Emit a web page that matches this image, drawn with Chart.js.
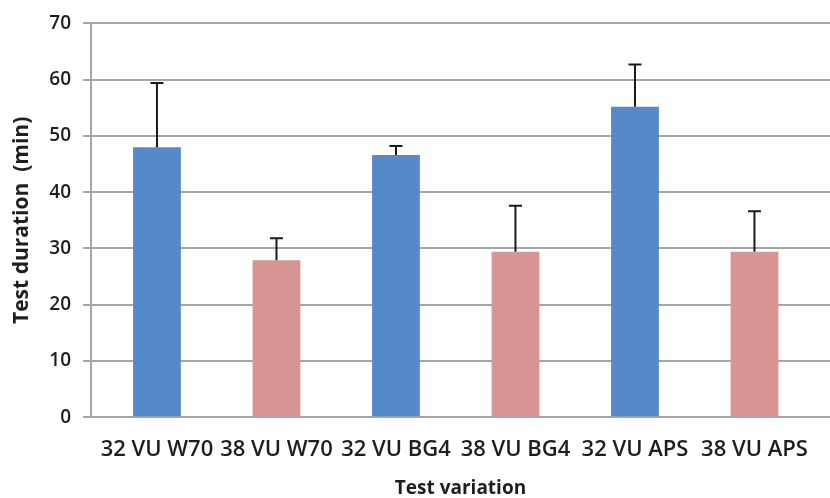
<!DOCTYPE html>
<html lang="en">
<head>
<meta charset="UTF-8">
<title>Test duration</title>
<style>
  body { margin: 0; padding: 0; background: #fff; }
  .chart-container { width: 830px; height: 498px; position: relative; }
</style>
<script src="https://cdn.jsdelivr.net/npm/chart.js"></script>
</head>
<body>
<div class="chart-container">
  <canvas id="durationChart"></canvas>
</div>
<script>
  // data
  const categories = ['32 VU W70', '38 VU W70', '32 VU BG4', '38 VU BG4', '32 VU APS', '38 VU APS'];
  const durations = [48.0, 27.9, 46.6, 29.4, 55.2, 29.4];
  const errUpper = [11.4, 3.9, 1.6, 8.2, 7.5, 7.2];
  const yTicks = [0, 10, 20, 30, 40, 50, 60, 70];

  const BLUE = '#5689c7';
  const PINK = '#d99594';
  const GRID = '#a6a6a6';
  const TEXT = '#1e1e1e';

  // only the upper whisker is drawn, like the original
  const errorBars = {
    id: 'errorBars',
    afterDatasetsDraw(chart) {
      const ctx = chart.ctx;
      const y = chart.scales.y;
      const meta = chart.getDatasetMeta(0);
      ctx.save();
      ctx.strokeStyle = '#1a1a1a';
      ctx.lineWidth = 2;
      meta.data.forEach((bar, i) => {
        const yBar = y.getPixelForValue(durations[i]);
        const yTop = y.getPixelForValue(durations[i] + errUpper[i]);
        ctx.beginPath();
        ctx.moveTo(bar.x, yBar);
        ctx.lineTo(bar.x, yTop);
        ctx.moveTo(bar.x - 6.5, yTop);
        ctx.lineTo(bar.x + 6.5, yTop);
        ctx.stroke();
      });
      ctx.restore();
    }
  };

  const ctx = document.getElementById('durationChart').getContext('2d');
  new Chart(ctx, {
    type: 'bar',
    data: {
      datasets: [{
        data: durations.map((v, i) => ({ x: i, y: v })),
        backgroundColor: durations.map((v, i) => i % 2 === 0 ? BLUE : PINK),
        borderWidth: 0,
        categoryPercentage: 0.4,
        barPercentage: 1.0
      }]
    },
    options: {
      responsive: true,
      maintainAspectRatio: false,
      animation: false,
      layout: { padding: { top: 22, right: 0, bottom: 0, left: 0 } },
      plugins: {
        legend: { display: false },
        tooltip: { enabled: false }
      },
      scales: {
        x: {
          type: 'linear',
          offset: false,
          min: -0.552,
          max: 5.632,
          grid: { display: false, drawTicks: false },
          border: { display: true, color: GRID, width: 2 },
          ticks: {
            stepSize: 1,
            includeBounds: false,
            autoSkip: false,
            maxRotation: 0,
            padding: 19,
            color: TEXT,
            font: { family: 'Open Sans', size: 22, weight: '600' },
            callback: (v) => Number.isInteger(v) ? categories[v] : ''
          },
          title: {
            display: true,
            text: 'Test variation',
            color: TEXT,
            font: { family: 'Open Sans', size: 19, weight: 'bold' },
            padding: { top: 0, bottom: -2 }
          },
          afterFit: (scale) => { scale.height = 80.7; }
        },
        y: {
          min: 0,
          max: 70,
          afterBuildTicks: (scale) => { scale.ticks = yTicks.map(v => ({ value: v })); },
          grid: { color: GRID, lineWidth: 2, tickLength: 8 },
          border: { display: true, color: GRID, width: 2 },
          ticks: {
            padding: 12,
            color: TEXT,
            font: { family: 'Open Sans', size: 19, weight: '600' }
          },
          title: {
            display: true,
            text: 'Test duration  (min)',
            color: TEXT,
            font: { family: 'Open Sans', size: 21, weight: 'bold' },
            padding: { top: 9, bottom: 0 }
          },
          afterFit: (scale) => { scale.width = 91; }
        }
      }
    },
    plugins: [errorBars]
  });
</script>
</body>
</html>
